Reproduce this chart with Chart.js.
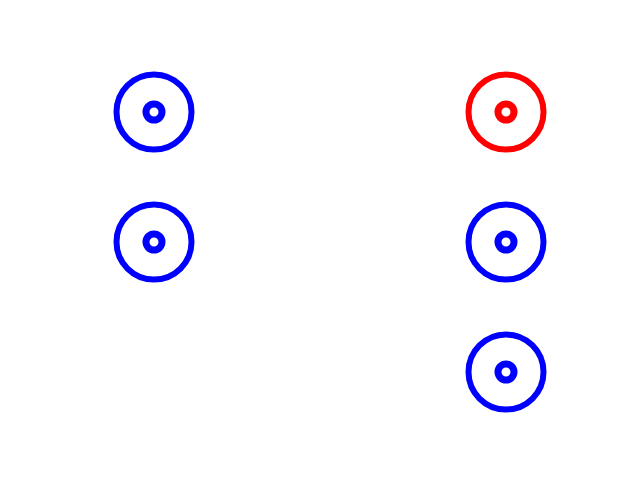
<!DOCTYPE html>
<html>
<head>
<meta charset="utf-8">
<script src="https://cdn.jsdelivr.net/npm/chart.js@4"></script>
<style>html,body{margin:0;padding:0;background:#fff;}</style>
</head>
<body>
<canvas id="c" width="640" height="480"></canvas>
<script>
const xValues = [0, 0, 1, 1, 1];
const yValues = [2, 1, 2, 1, 0];
const pointColors = ['#0000ff', '#0000ff', '#ff0000', '#0000ff', '#0000ff'];

const pts = xValues.map((x, i) => ({x: x, y: yValues[i]}));

new Chart(document.getElementById('c'), {
  type: 'scatter',
  data: {
    datasets: [
      {
        data: pts,
        clip: false,
        pointRadius: 37.5,
        pointHoverRadius: 37.5,
        pointBorderWidth: 6,
        pointHoverBorderWidth: 6,
        pointBackgroundColor: 'rgba(0,0,0,0)',
        pointBorderColor: pointColors
      },
      {
        data: pts,
        clip: false,
        pointRadius: 8,
        pointHoverRadius: 8,
        pointBorderWidth: 7,
        pointHoverBorderWidth: 7,
        pointBackgroundColor: 'rgba(0,0,0,0)',
        pointBorderColor: pointColors
      }
    ]
  },
  options: {
    responsive: false,
    animation: false,
    events: [],
    layout: {padding: 0, autoPadding: false},
    plugins: {legend: {display: false}, tooltip: {enabled: false}},
    scales: {
      x: {type: 'linear', display: false, min: -154/352, max: 1 + 134/352},
      y: {type: 'linear', display: false, min: -108/130, max: 2 + 112/130}
    }
  }
});
</script>
</body>
</html>
